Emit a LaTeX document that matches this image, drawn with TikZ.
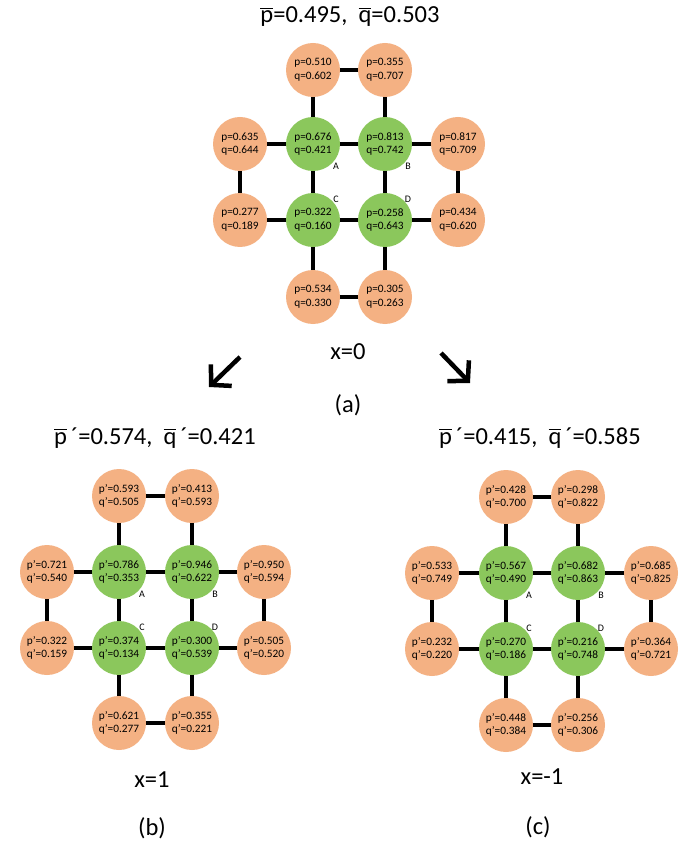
\documentclass[tikz,border=0pt]{standalone}
\usepackage{fontspec}
\setmainfont{Carlito}
\usetikzlibrary{arrows.meta}
\definecolor{orng}{RGB}{244,177,131}
\definecolor{grn}{RGB}{139,199,92}
\newcommand\ovl[1]{\leavevmode\vbox{\hrule height 1.2pt\kern 2.2pt\hbox{#1}}}
\newcommand\netedges[1]{%
  \draw[edge] (#1t1) -- (#1t2);
  \draw[edge] (#1t1) -- (#1A);
  \draw[edge] (#1t2) -- (#1B);
  \draw[edge] (#1l1) -- (#1A);
  \draw[edge] (#1A) -- (#1B);
  \draw[edge] (#1B) -- (#1r1);
  \draw[edge] (#1l1) -- (#1l2);
  \draw[edge] (#1A) -- (#1C);
  \draw[edge] (#1B) -- (#1D);
  \draw[edge] (#1r1) -- (#1r2);
  \draw[edge] (#1l2) -- (#1C);
  \draw[edge] (#1C) -- (#1D);
  \draw[edge] (#1D) -- (#1r2);
  \draw[edge] (#1C) -- (#1b1);
  \draw[edge] (#1D) -- (#1b2);
  \draw[edge] (#1b1) -- (#1b2);
  \node[lbl] (#1la) at ([shift={(23,22)}]#1A.center) {A};
  \node[lbl] (#1lb) at ([shift={(23,22)}]#1B.center) {B};
  \node[lbl] (#1lc) at ([shift={(23,-21)}]#1C.center) {C};
  \node[lbl] (#1ld) at ([shift={(23,-21)}]#1D.center) {D};
}
\tikzset{
  x=1pt, y=-1pt,
  cell/.style={circle, minimum size=54pt, inner sep=0pt, align=center,
    font=\fontsize{11.3}{13.8}\selectfont},
  onode/.style={cell, fill=orng},
  gnode/.style={cell, fill=grn},
  edge/.style={line width=4.5pt, black},
  lbl/.style={font=\fontsize{10}{11}\selectfont, inner sep=0pt},
  big/.style={font=\fontsize{24.5}{28}\selectfont, inner sep=0pt},
  arr/.style={line width=4.5pt, -{Straight Barb[length=14pt,width=30pt,line width=4.5pt]}},
}
\begin{document}
\begin{tikzpicture}
\useasboundingbox[fill=white] (0,0) rectangle (698,858);
% ---- graph (a)
\begin{scope}[shift={(313,144)}]
  \node[onode] (at1) at (0,-74) {p=0.510\\q=0.602};
  \node[onode] (at2) at (72,-74) {p=0.355\\q=0.707};
  \node[onode] (al1) at (-73,0) {p=0.635\\q=0.644};
  \node[gnode] (aA) at (0,0) {p=0.676\\q=0.421};
  \node[gnode] (aB) at (72,0) {p=0.813\\q=0.742};
  \node[onode] (ar1) at (145,0) {p=0.817\\q=0.709};
  \node[onode] (al2) at (-73,76) {p=0.277\\q=0.189};
  \node[gnode] (aC) at (0,76) {p=0.322\\q=0.160};
  \node[gnode] (aD) at (72,76) {p=0.258\\q=0.643};
  \node[onode] (ar2) at (145,76) {p=0.434\\q=0.620};
  \node[onode] (ab1) at (0,153) {p=0.534\\q=0.330};
  \node[onode] (ab2) at (72,153) {p=0.305\\q=0.263};
\end{scope}
\netedges{a}
% ---- graph (b)
\begin{scope}[shift={(119,572)}]
  \node[onode] (bt1) at (0,-76) {p’=0.593\\q’=0.505};
  \node[onode] (bt2) at (73,-76) {p’=0.413\\q’=0.593};
  \node[onode] (bl1) at (-72,0) {p’=0.721\\q’=0.540};
  \node[gnode] (bA) at (0,0) {p’=0.786\\q’=0.353};
  \node[gnode] (bB) at (73,0) {p’=0.946\\q’=0.622};
  \node[onode] (br1) at (145,0) {p’=0.950\\q’=0.594};
  \node[onode] (bl2) at (-72,76) {p’=0.322\\q’=0.159};
  \node[gnode] (bC) at (0,76) {p’=0.374\\q’=0.134};
  \node[gnode] (bD) at (73,76) {p’=0.300\\q’=0.539};
  \node[onode] (br2) at (145,76) {p’=0.505\\q’=0.520};
  \node[onode] (bb1) at (0,151) {p’=0.621\\q’=0.277};
  \node[onode] (bb2) at (73,151) {p’=0.355\\q’=0.221};
\end{scope}
\netedges{b}
% ---- graph (c)
\begin{scope}[shift={(506,573)}]
  \node[onode] (ct1) at (0,-76) {p’=0.428\\q’=0.700};
  \node[onode] (ct2) at (72,-76) {p’=0.298\\q’=0.822};
  \node[onode] (cl1) at (-74,0) {p’=0.533\\q’=0.749};
  \node[gnode] (cA) at (0,0) {p’=0.567\\q’=0.490};
  \node[gnode] (cB) at (72,0) {p’=0.682\\q’=0.863};
  \node[onode] (cr1) at (145,0) {p’=0.685\\q’=0.825};
  \node[onode] (cl2) at (-74,76) {p’=0.232\\q’=0.220};
  \node[gnode] (cC) at (0,76) {p’=0.270\\q’=0.186};
  \node[gnode] (cD) at (72,76) {p’=0.216\\q’=0.748};
  \node[onode] (cr2) at (145,76) {p’=0.364\\q’=0.721};
  \node[onode] (cb1) at (0,152) {p’=0.448\\q’=0.384};
  \node[onode] (cb2) at (72,152) {p’=0.256\\q’=0.306};
\end{scope}
\netedges{c}
% ---- texts
\node[big] (tta) at (350,17) {\ovl{p}=0.495,\ \ \ovl{q}=0.503};
\node[big] (xa) at (348,352) {x=0};
\node[big] (capa) at (348,405) {(a)};
\node[big] (ttb) at (155,438) {\ovl{p}\,´=0.574,\ \ \ovl{q}\,´=0.421};
\node[big] (xb) at (152,780) {x=1};
\node[big] (capb) at (152,828) {(b)};
\node[big] (ttc) at (540,438) {\ovl{p}\,´=0.415,\ \ \ovl{q}\,´=0.585};
\node[big] (xc) at (542,777) {x=-1};
\node[big] (capc) at (538,827) {(c)};
% ---- arrows
\coordinate (la1) at (240,357);
\coordinate (la2) at (209,387);
\coordinate (ra1) at (441,353);
\coordinate (ra2) at (470,383);
\draw[arr] (la1) -- (la2);
\draw[arr] (ra1) -- (ra2);
\end{tikzpicture}
\end{document}
